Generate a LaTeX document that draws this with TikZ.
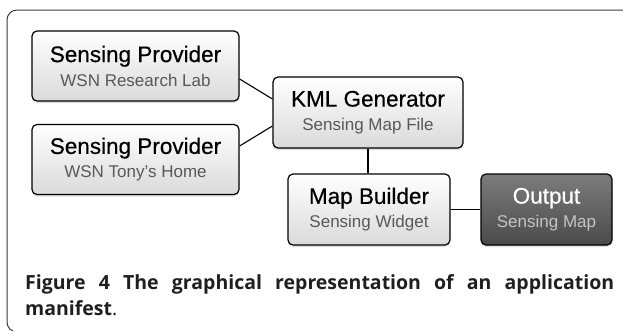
\documentclass[tikz,border=0pt]{standalone}
\usepackage{fontspec}
\setmainfont{Liberation Sans}
\newfontfamily\capfont{Open Sans}
\usepackage{xcolor}
\usetikzlibrary{shadows}
\usetikzlibrary{positioning}
\definecolor{boxgray}{HTML}{DADADA}
\definecolor{subgray}{HTML}{585858}
\definecolor{outtop}{HTML}{7C7C7C}
\definecolor{outbottom}{HTML}{4A4A4A}
\definecolor{outsub}{HTML}{C4C4C4}
\definecolor{framegray}{HTML}{3C3C3C}
\newcommand{\boxtitle}[1]{{\addfontfeatures{FakeBold=0.5}\fontsize{22.5}{24}\selectfont #1}}
\newcommand{\boxsub}[1]{{\fontsize{17}{24}\selectfont #1}}

\begin{document}
\begin{tikzpicture}[x=1pt,y=-1pt,
      block/.style={draw=black,
      line width=1.2pt,
      rounded corners=5pt,
      top color=white,
      bottom color=boxgray,
      minimum height=70pt,
      inner sep=0pt,
      align=center,
      font=\fontsize{17}{24}\selectfont,
      drop shadow={opacity=0.25,shadow xshift=0pt,shadow yshift=-2pt}},
      outblock/.style={block,top color=outtop,bottom color=outbottom,text=white},
      link/.style={draw=black,line width=1.1pt}]
    \useasboundingbox (0,0) rectangle (623,330);
    \clip (0,0) rectangle (623,330);
    %% frame
    \draw [framegray, line width=1pt, rounded corners=10pt] (7,10) rectangle (660,332);
    %% Providers
    \node [block, minimum width=207pt] at (135.5,66) (prov1)
      {\boxtitle{Sensing Provider}\\ \boxsub{\color{subgray}WSN Research Lab}};
    \node [block, minimum width=207pt] at (135.5,159.5) (prov2)
      {\boxtitle{Sensing Provider}\\ \boxsub{\color{subgray}WSN Tony's Home}};
    %% Generator and builder
    \node [block, minimum width=190pt, minimum height=71pt] at (368,112.5) (kml)
      {\boxtitle{KML Generator}\\ \boxsub{\color{subgray}Sensing Map File}};
    \node [block, minimum width=162pt, minimum height=71pt] at (369,209.5) (builder)
      {\boxtitle{Map Builder}\\ \boxsub{\color{subgray}Sensing Widget}};
    %% Output
    \node [outblock, minimum width=131pt, minimum height=71pt] at (546.5,209.5) (output)
      {\boxtitle{Output}\\ \boxsub{\color{outsub}Sensing Map}};
    %%
    %% Links
    \path [link] ([yshift=-13pt]prov1.east) -- ([yshift=13.5pt]kml.west);
    \path [link] ([yshift=13.5pt]prov2.east) -- ([yshift=-13.5pt]kml.west);
    \path [link] (kml.south) -- (kml.south |- builder.north);
    \path [link] (builder.east) -- (output.west);
    %% Caption
    \node [anchor=base west, inner sep=0pt, text width=589pt, align=justify,
      font=\capfont\fontsize{19.5}{26.5}\selectfont, text=black!88] at (25,289) (caption)
      {\textbf{Figure 4 The graphical representation of an application}\linebreak
       \textbf{manifest}.};
\end{tikzpicture}
\end{document}
